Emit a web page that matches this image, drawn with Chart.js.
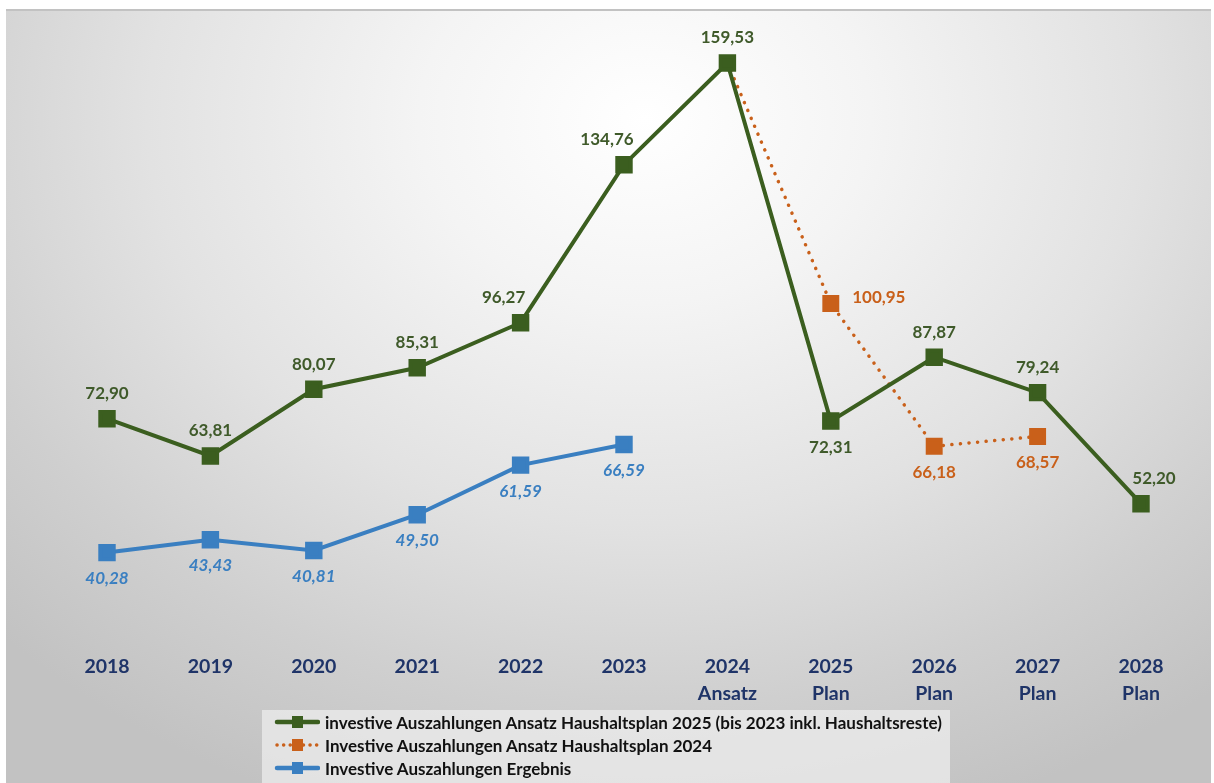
<!DOCTYPE html>
<html>
<head>
<meta charset="utf-8">
<script src="https://cdn.jsdelivr.net/npm/chart.js@4.4.1/dist/chart.umd.min.js"></script>
<style>
  html, body { margin: 0; padding: 0; background: #ffffff; }
  #frame {
    position: absolute; left: 6px; top: 9px; width: 1205px; height: 774px;
    border-top: 2px solid #c2c2c2;
    background: radial-gradient(ellipse 75% 95% at 53% 14%, #ffffff 0%, #f4f4f4 25%, #e2e2e2 55%, #cfcfcf 80%, #c2c2c2 100%);
  }
  #wrap { position: absolute; left: 0; top: 0; width: 1214px; height: 783px; }
  #legend {
    position: absolute; left: 262px; top: 710px; width: 688px; height: 73px;
    background: rgba(236, 236, 236, 0.75);
    font-family: Lato, "Open Sans", sans-serif; font-size: 17px; font-weight: 700; color: #111;
  }
  .row { position: absolute; left: 12px; height: 22px; display: flex; align-items: center; white-space: nowrap; }
  .row canvas { margin-right: 5px; }
</style>
</head>
<body>
<div id="frame"></div>
<div id="wrap"><canvas id="chart" width="1214" height="783"></canvas></div>
<div id="legend"></div>
<script>
// ---- data ----
const categories = [
  '2018', '2019', '2020', '2021', '2022', '2023',
  ['2024', 'Ansatz'], ['2025', 'Plan'], ['2026', 'Plan'], ['2027', 'Plan'], ['2028', 'Plan']
];
const ansatz2025 = [72.90, 63.81, 80.07, 85.31, 96.27, 134.76, 159.53, 72.31, 87.87, 79.24, 52.20];
const ansatz2024 = [null, null, null, null, null, null, 159.53, 100.95, 66.18, 68.57, null];
const ergebnis = [40.28, 43.43, 40.81, 49.50, 61.59, 66.59, null, null, null, null, null];

// where each value label sits relative to its point
const greenLabelPos = ['top', 'top', 'top', 'top', 'topleft', 'topleft', 'top', 'bottom', 'top', 'top', 'topright'];
const orangeLabelPos = [null, null, null, null, null, null, null, 'right', 'bottom', 'bottom', null];
const blueLabelPos = ['bottom', 'bottom', 'bottom', 'bottom', 'bottom', 'bottom'];

const legendNames = [
  'investive Auszahlungen Ansatz Haushaltsplan 2025 (bis 2023 inkl. Haushaltsreste)',
  'Investive Auszahlungen Ansatz Haushaltsplan 2024',
  'Investive Auszahlungen Ergebnis'
];

const GREEN = '#3b5e1f';
const ORANGE = '#c9601a';
const BLUE = '#3a7fc1';
const NAVY = '#1f3468';

function fmt(v) {
  return v.toFixed(2).replace('.', ',');
}

// draws the value labels next to the points
const valueLabels = {
  id: 'valueLabels',
  afterDatasetsDraw(chart) {
    const ctx = chart.ctx;
    ctx.save();
    ctx.textAlign = 'center';
    ctx.textBaseline = 'middle';
    chart.data.datasets.forEach((ds, di) => {
      const meta = chart.getDatasetMeta(di);
      meta.data.forEach((pt, i) => {
        const pos = ds.labelPos[i];
        const v = ds.data[i];
        if (v == null || !pos) return;
        let x = pt.x, y = pt.y;
        if (pos === 'top') y -= 25;
        if (pos === 'topleft') { y -= 25; x -= 17; }
        if (pos === 'topright') { y -= 25; x += 13; }
        if (pos === 'bottom') y += 26;
        if (pos === 'right') { x += 48; y -= 6; }
        ctx.font = (ds.italic ? 'italic ' : '') + 'bold 17px Lato, "Open Sans", sans-serif';
        ctx.fillStyle = ds.labelColor;
        ctx.fillText(fmt(v), x, y);
      });
    });
    ctx.restore();
  }
};

const ctx = document.getElementById('chart').getContext('2d');
const chart = new Chart(ctx, {
  type: 'line',
  data: {
    labels: categories,
    datasets: [
      {
        label: legendNames[2],
        data: ergebnis,
        borderColor: BLUE,
        backgroundColor: BLUE,
        borderWidth: 4,
        pointStyle: 'rect',
        pointRadius: 9.5,
        labelPos: blueLabelPos,
        labelColor: BLUE,
        italic: true
      },
      {
        label: legendNames[0],
        data: ansatz2025,
        borderColor: GREEN,
        backgroundColor: GREEN,
        borderWidth: 4,
        pointStyle: 'rect',
        pointRadius: 9.5,
        labelPos: greenLabelPos,
        labelColor: '#3f5a2a'
      },
      {
        label: legendNames[1],
        data: ansatz2024,
        borderColor: ORANGE,
        backgroundColor: ORANGE,
        borderWidth: 3.5,
        borderDash: [0.1, 8.5],
        borderCapStyle: 'round',
        pointStyle: 'rect',
        pointRadius: [0, 0, 0, 0, 0, 0, 0, 9.5, 9.5, 9.5, 0],
        labelPos: orangeLabelPos,
        labelColor: ORANGE
      }
    ]
  },
  options: {
    responsive: false,
    animation: false,
    layout: { padding: { left: 107, right: 73, top: 20, bottom: 71 } },
    plugins: {
      legend: { display: false },
      tooltip: { enabled: false }
    },
    scales: {
      x: {
        offset: false,
        grid: { display: false, drawTicks: false },
        border: { display: false },
        ticks: {
          color: NAVY,
          padding: 5,
          maxRotation: 0,
          autoSkip: false,
          font: { family: 'Lato, "Open Sans", sans-serif', size: 19.5, weight: 'bold', lineHeight: 1.38 }
        }
      },
      y: {
        display: false,
        min: 17,
        max: 170
      }
    }
  },
  plugins: [valueLabels]
});

// ---- legend ----
const legendEl = document.getElementById('legend');
const legendStyles = [
  { color: GREEN, dotted: false },
  { color: ORANGE, dotted: true },
  { color: BLUE, dotted: false }
];
legendNames.forEach((name, i) => {
  const row = document.createElement('div');
  row.className = 'row';
  row.style.top = (1 + i * 23) + 'px';
  const c = document.createElement('canvas');
  c.width = 46; c.height = 20;
  const g = c.getContext('2d');
  const st = legendStyles[i];
  g.strokeStyle = st.color;
  g.fillStyle = st.color;
  g.lineWidth = st.dotted ? 3.5 : 4.5;
  g.lineCap = 'round';
  if (st.dotted) g.setLineDash([0.1, 6.5]);
  g.beginPath(); g.moveTo(3, 10); g.lineTo(44, 10); g.stroke();
  g.fillRect(18, 4, 11, 12);
  row.appendChild(c);
  const t = document.createElement('span');
  t.textContent = name;
  row.appendChild(t);
  legendEl.appendChild(row);
});
</script>
</body>
</html>
